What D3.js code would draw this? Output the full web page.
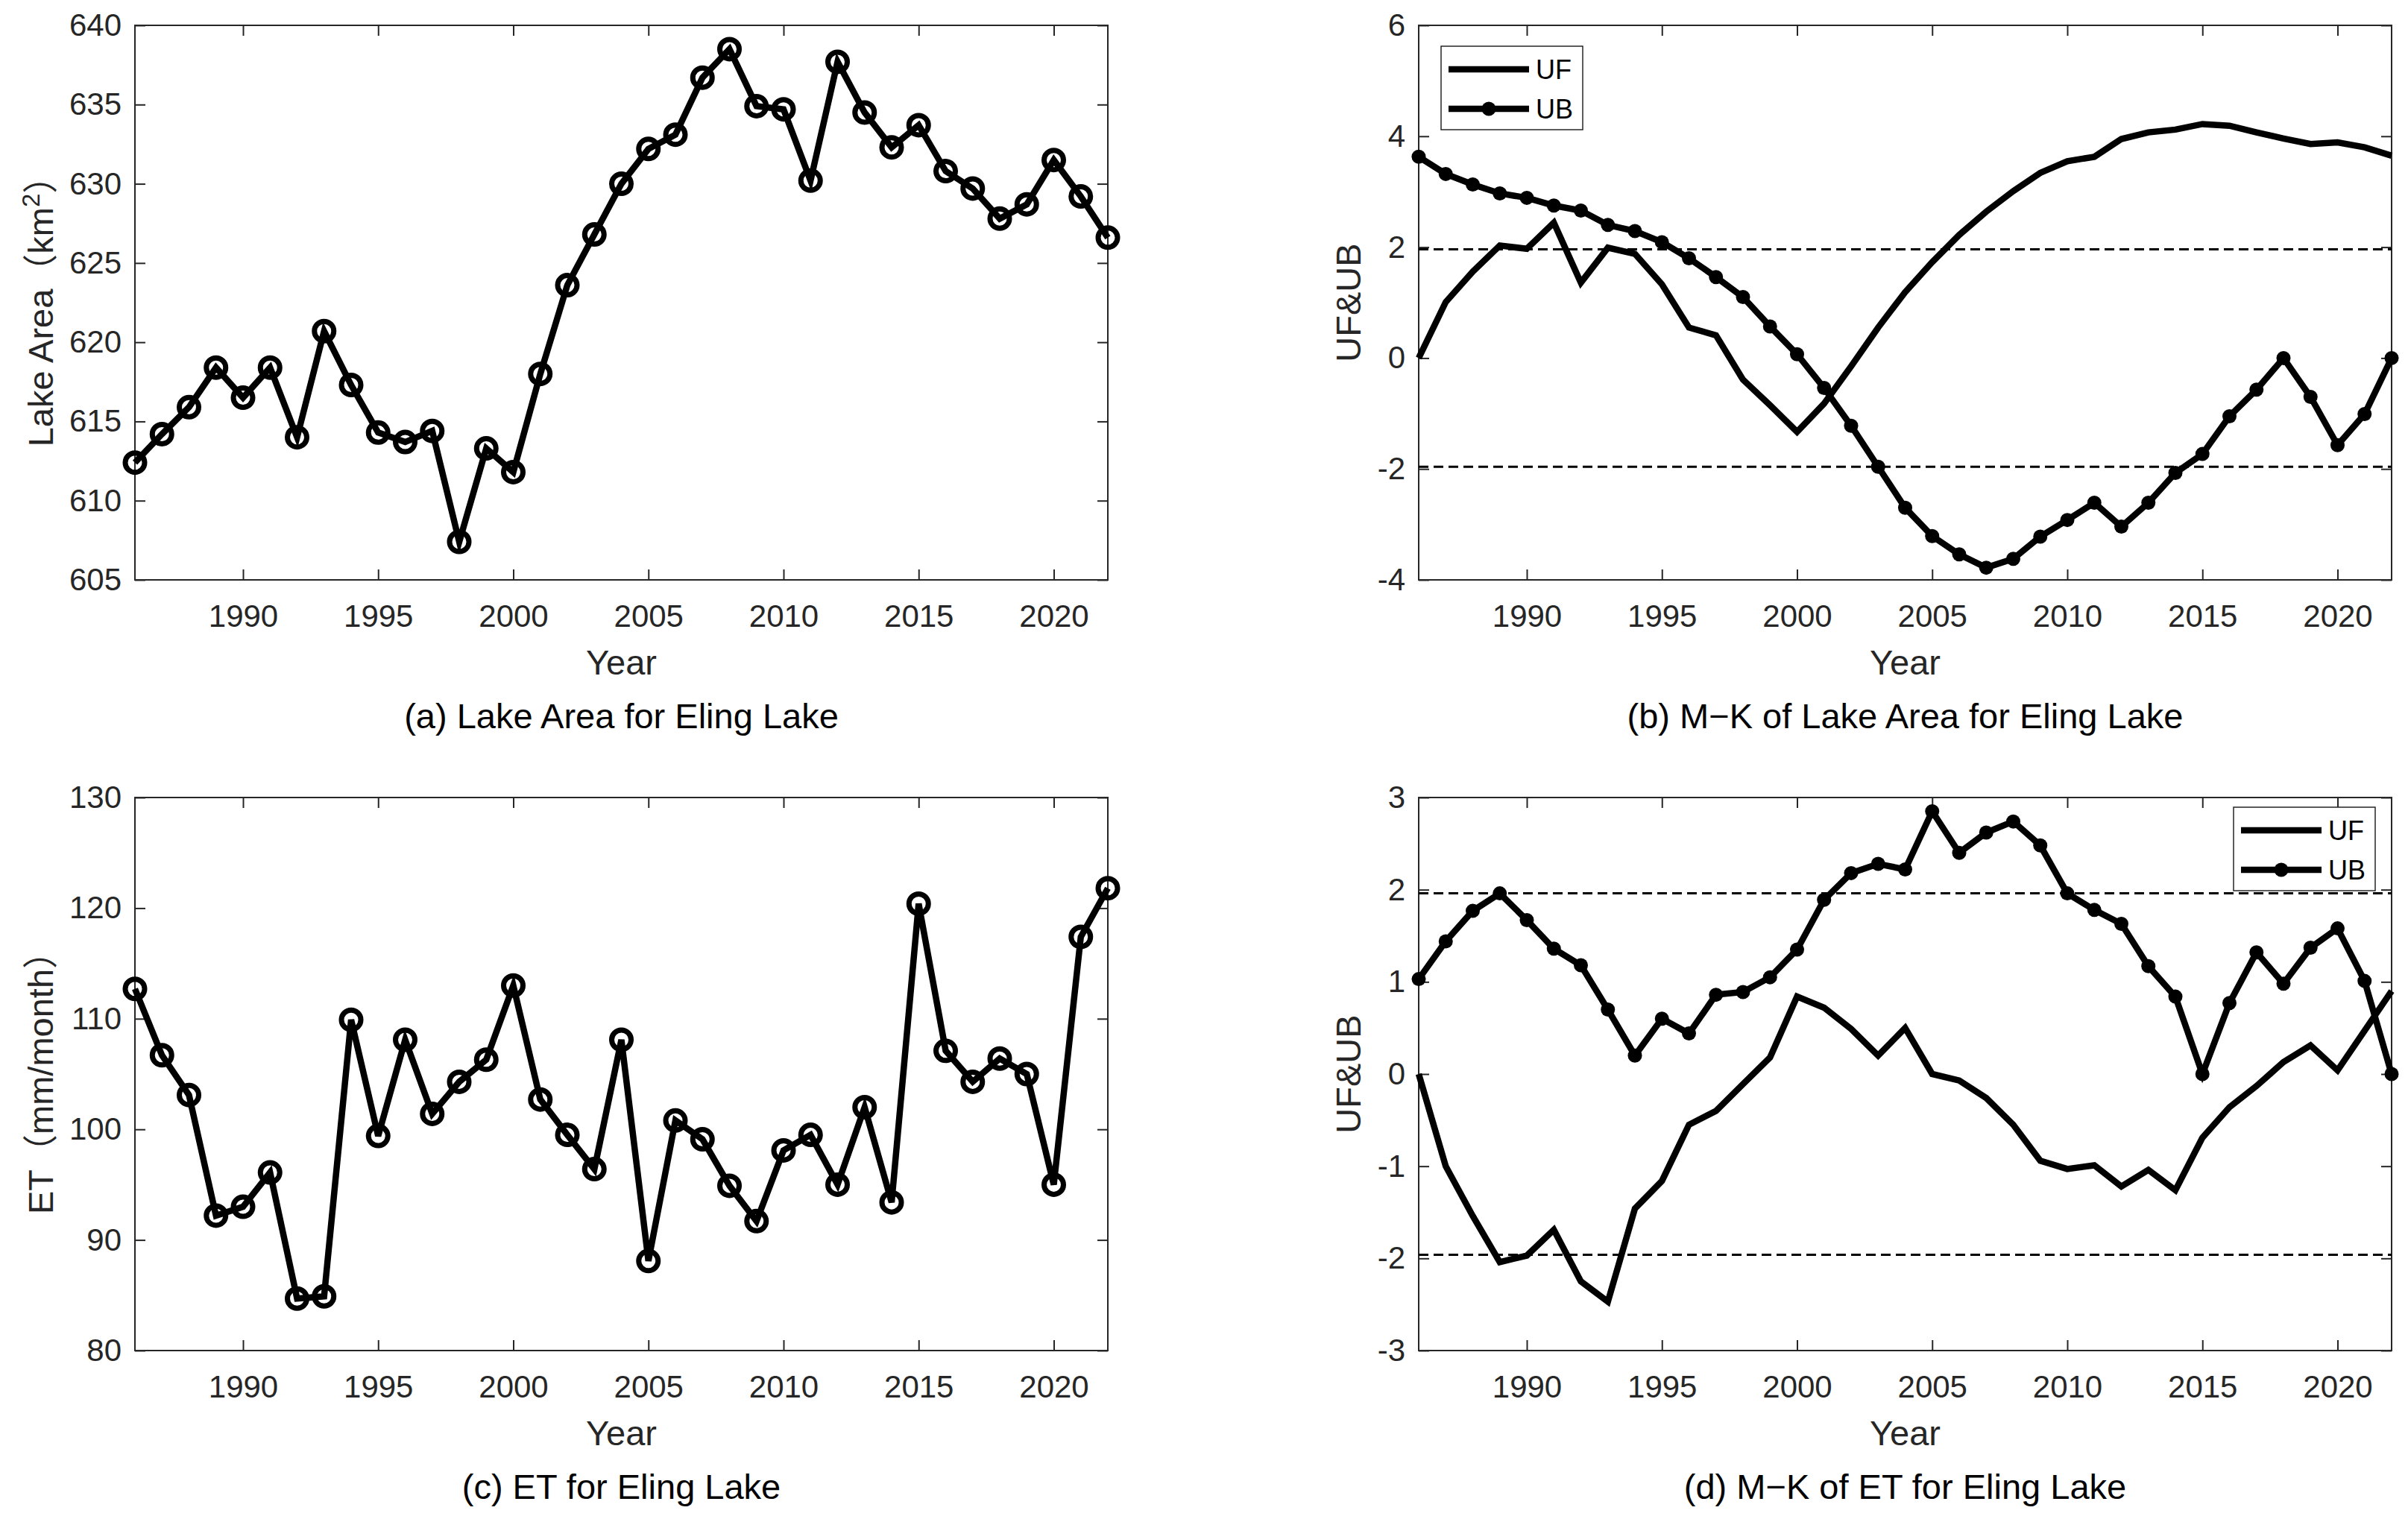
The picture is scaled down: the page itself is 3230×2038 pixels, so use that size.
<!DOCTYPE html>
<html>
<head>
<meta charset="utf-8">
<script src="https://cdn.jsdelivr.net/npm/d3@7"></script>
<style>
body { margin: 0; background: #fff; }
</style>
</head>
<body>
<div id="chart"></div>
<script>
// data
const years = [1986, 1987, 1988, 1989, 1990, 1991, 1992, 1993, 1994, 1995, 1996, 1997, 1998,
	1999, 2000, 2001, 2002, 2003, 2004, 2005, 2006, 2007, 2008, 2009, 2010, 2011, 2012,
	2013, 2014, 2015, 2016, 2017, 2018, 2019, 2020, 2021, 2022];

const lakeArea = [612.4, 614.2, 615.9, 618.4, 616.5, 618.4, 614.0, 620.7, 617.3, 614.3, 613.7, 614.4, 607.4,
	613.3, 611.8, 618.0, 623.6, 626.8, 630.0, 632.2, 633.1, 636.7, 638.5, 634.9, 634.7, 630.2, 637.7,
	634.5, 632.3, 633.7, 630.8, 629.7, 627.8, 628.7, 631.5, 629.2, 626.6];

const et = [112.7, 106.7, 103.1, 92.2, 93.0, 96.1, 84.7, 84.9, 109.9, 99.4, 108.1, 101.4, 104.3,
	106.3, 113.0, 102.7, 99.5, 96.4, 108.1, 88.1, 100.8, 99.1, 94.9, 91.7, 98.1, 99.5, 95.0,
	102.0, 93.4, 120.4, 107.1, 104.3, 106.4, 105.0, 95.0, 117.4, 121.8];

const areaUF = [0, 1.01, 1.56, 2.03, 1.97, 2.44, 1.36, 1.99, 1.88, 1.33, 0.55, 0.41, -0.39,
	-0.85, -1.33, -0.82, -0.15, 0.55, 1.19, 1.73, 2.22, 2.64, 3.01, 3.34, 3.55, 3.63, 3.95,
	4.07, 4.12, 4.22, 4.19, 4.07, 3.96, 3.86, 3.89, 3.80, 3.65];

const areaUB = [3.63, 3.32, 3.13, 2.97, 2.89, 2.75, 2.66, 2.40, 2.29, 2.09, 1.80, 1.46, 1.10,
	0.57, 0.07, -0.54, -1.22, -1.96, -2.70, -3.21, -3.54, -3.78, -3.62, -3.22, -2.92, -2.61, -3.04,
	-2.61, -2.07, -1.73, -1.05, -0.57, 0.0, -0.70, -1.57, -1.01, 0.0];

const etUF = [0, -1.0, -1.54, -2.04, -1.97, -1.69, -2.25, -2.47, -1.46, -1.16, -0.55, -0.40, -0.11,
	0.18, 0.84, 0.72, 0.49, 0.20, 0.50, 0.0, -0.07, -0.26, -0.55, -0.94, -1.03, -0.99, -1.22,
	-1.04, -1.26, -0.69, -0.36, -0.13, 0.13, 0.31, 0.04, 0.47, 0.90];

const etUB = [1.03, 1.44, 1.77, 1.96, 1.67, 1.36, 1.18, 0.70, 0.20, 0.60, 0.44, 0.86, 0.89,
	1.05, 1.35, 1.89, 2.18, 2.28, 2.22, 2.85, 2.40, 2.62, 2.74, 2.48, 1.96, 1.78, 1.63,
	1.17, 0.84, 0.0, 0.77, 1.32, 0.98, 1.37, 1.58, 1.01, 0.0];

const yearTicks = [1990, 1995, 2000, 2005, 2010, 2015, 2020];
const areaTicks = [605, 610, 615, 620, 625, 630, 635, 640];
const areaMKTicks = [-4, -2, 0, 2, 4, 6];
const etTicks = [80, 90, 100, 110, 120, 130];
const etMKTicks = [-3, -2, -1, 0, 1, 2, 3];
const seriesNames = ["UF", "UB"];
const critical = 1.96;

const FONT = "'Liberation Sans', Arial, 'Noto Sans CJK SC', sans-serif";
const INK = "#262626";

const svg = d3.select("#chart")
	.append("svg")
	.attr("width", 3230)
	.attr("height", 2038)
	.style("font-family", FONT);

svg.append("rect").attr("width", 3230).attr("height", 2038).attr("fill", "#fff");

// axes box, ticks on all four sides pointing inward
const drawFrame = (g, x, y, yTicks, w, h) => {
	const style = (sel) => {
		sel.select(".domain").remove();
		sel.selectAll(".tick line").attr("stroke", INK).attr("stroke-width", 2);
		sel.selectAll(".tick text")
			.attr("fill", INK)
			.style("font-size", "42px")
			.style("font-family", FONT);
		sel.attr("font-size", null).attr("font-family", null);
	};

	g.append("g")
		.attr("transform", "translate(0," + h + ")")
		.call(d3.axisBottom(x).tickValues(yearTicks).tickSize(-14).tickPadding(33).tickFormat((d) => String(d)))
		.call(style);
	g.append("g")
		.call(d3.axisTop(x).tickValues(yearTicks).tickSize(-14).tickFormat(""))
		.call(style);
	g.append("g")
		.call(d3.axisLeft(y).tickValues(yTicks).tickSize(-14).tickPadding(18).tickFormat((d) => String(d)))
		.call(style);
	g.append("g")
		.attr("transform", "translate(" + w + ",0)")
		.call(d3.axisRight(y).tickValues(yTicks).tickSize(-14).tickFormat(""))
		.call(style);

	g.append("rect")
		.attr("width", w)
		.attr("height", h)
		.attr("fill", "none")
		.attr("stroke", INK)
		.attr("stroke-width", 2);
};

const labels = (g, w, h, yLabelX, yLabel, subtitle) => {
	g.append("text")
		.attr("x", w / 2)
		.attr("y", h + 127)
		.attr("text-anchor", "middle")
		.attr("fill", INK)
		.style("font-size", "47px")
		.text("Year");
	g.append("text")
		.attr("x", w / 2)
		.attr("y", h + 199)
		.attr("text-anchor", "middle")
		.attr("fill", "#000")
		.style("font-size", "47px")
		.text(subtitle);
	const t = g.append("text")
		.attr("transform", "translate(" + yLabelX + "," + (h / 2) + ") rotate(-90)")
		.attr("text-anchor", "middle")
		.attr("fill", INK)
		.style("font-size", "47px");
	yLabel(t);
};

const panel = (left, top) => {
	return svg.append("g").attr("transform", "translate(" + left + "," + top + ")");
};

// (a) and (c): value series with open circle markers
const valuePanel = (left, top, w, h, values, domain, yTicks, yLabel, subtitle) => {
	const g = panel(left, top);
	const x = d3.scaleLinear().domain([1986, 2022]).range([0, w]);
	const y = d3.scaleLinear().domain(domain).range([h, 0]);

	drawFrame(g, x, y, yTicks, w, h);

	const line = d3.line().x((d, i) => x(years[i])).y((d) => y(d));
	g.append("path")
		.datum(values)
		.attr("d", line)
		.attr("fill", "none")
		.attr("stroke", "#000")
		.attr("stroke-width", 8.5);

	g.selectAll(".mark")
		.data(values)
		.enter()
		.append("circle")
		.attr("cx", (d, i) => x(years[i]))
		.attr("cy", (d) => y(d))
		.attr("r", 13)
		.attr("fill", "none")
		.attr("stroke", "#000")
		.attr("stroke-width", 7);

	labels(g, w, h, -110, yLabel, subtitle);
};

// (b) and (d): Mann-Kendall UF / UB curves
const mkPanel = (left, top, w, h, uf, ub, domain, yTicks, legendPos, subtitle) => {
	const g = panel(left, top);
	const x = d3.scaleLinear().domain([1986, 2022]).range([0, w]);
	const y = d3.scaleLinear().domain(domain).range([h, 0]);

	drawFrame(g, x, y, yTicks, w, h);

	[critical, -critical].forEach((c) => {
		g.append("line")
			.attr("x1", 0)
			.attr("x2", w)
			.attr("y1", y(c))
			.attr("y2", y(c))
			.attr("stroke", "#000")
			.attr("stroke-width", 3)
			.attr("stroke-dasharray", "13 7");
	});

	const line = d3.line().x((d, i) => x(years[i])).y((d) => y(d));
	[uf, ub].forEach((s) => {
		g.append("path")
			.datum(s)
			.attr("d", line)
			.attr("fill", "none")
			.attr("stroke", "#000")
			.attr("stroke-width", 8.5);
	});

	g.selectAll(".ub")
		.data(ub)
		.enter()
		.append("circle")
		.attr("cx", (d, i) => x(years[i]))
		.attr("cy", (d) => y(d))
		.attr("r", 9.5)
		.attr("fill", "#000");

	// legend
	const lg = g.append("g").attr("transform", "translate(" + legendPos[0] + "," + legendPos[1] + ")");
	lg.append("rect")
		.attr("width", 190)
		.attr("height", 112)
		.attr("fill", "#fff")
		.attr("stroke", INK)
		.attr("stroke-width", 1.5);
	seriesNames.forEach((name, i) => {
		const cy = 31 + i * 53;
		lg.append("line")
			.attr("x1", 10).attr("x2", 118)
			.attr("y1", cy).attr("y2", cy)
			.attr("stroke", "#000")
			.attr("stroke-width", 8.5);
		if (name === "UB") {
			lg.append("circle").attr("cx", 64).attr("cy", cy).attr("r", 9.5).attr("fill", "#000");
		}
		lg.append("text")
			.attr("x", 127)
			.attr("y", cy)
			.attr("dy", "0.35em")
			.attr("fill", "#000")
			.style("font-size", "36px")
			.text(name);
	});

	labels(g, w, h, -78, (t) => t.text("UF&UB"), subtitle);
};

const LX = 181, RX = 1903, PW = 1305;
const TY = 34, BY = 1070, TH = 744, BH = 742;

valuePanel(LX, TY, PW, TH, lakeArea, [605, 640], areaTicks, (t) => {
	t.append("tspan").text("Lake Area（km");
	t.append("tspan").attr("baseline-shift", "super").style("font-size", "33px").text("2");
	t.append("tspan").text("）");
}, "(a) Lake Area for Eling Lake");

mkPanel(RX, TY, PW, TH, areaUF, areaUB, [-4, 6], areaMKTicks, [30, 28], "(b) M\u2212K of Lake Area for Eling Lake");

valuePanel(LX, BY, PW, BH, et, [80, 130], etTicks, (t) => {
	t.text("ET（mm/month）");
}, "(c) ET for Eling Lake");

mkPanel(RX, BY, PW, BH, etUF, etUB, [-3, 3], etMKTicks, [1093, 13], "(d) M\u2212K of ET for Eling Lake");
</script>
</body>
</html>
